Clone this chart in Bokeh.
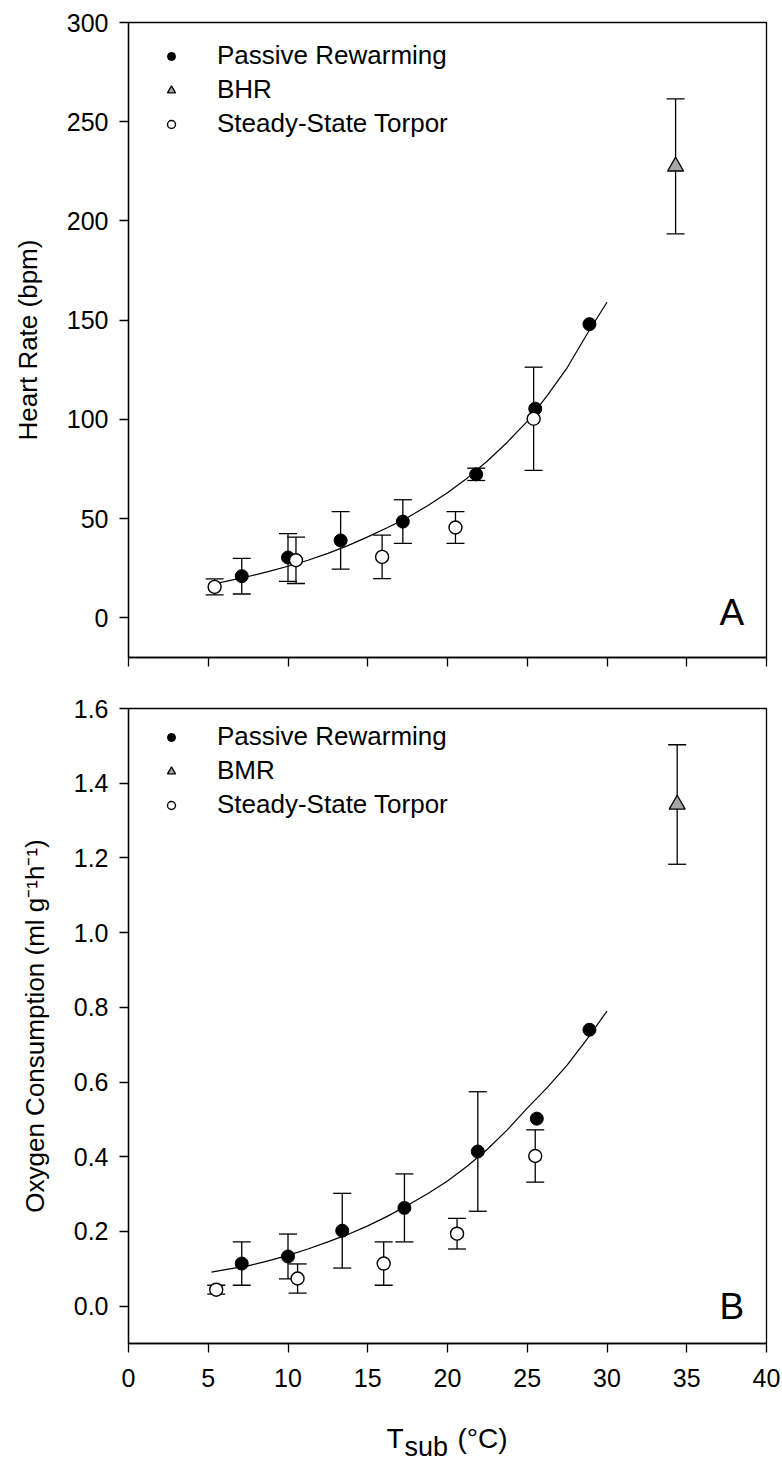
from bokeh.plotting import figure
from bokeh.models import (Whisker, TeeHead, ColumnDataSource, Legend, LegendItem,
                          Range1d, FixedTicker, Label, NumeralTickFormatter)
from bokeh.layouts import column
from bokeh.embed import file_html
from bokeh.resources import INLINE

FONT = "Liberation Sans"

# ---------------- data: panel A (heart rate) ----------------
pr_t_a = [7.1, 10.0, 13.3, 17.2, 21.8, 25.5, 28.9]
pr_hr = [21.0, 30.4, 39.0, 48.5, 72.3, 105.4, 148.0]
pr_hr_err = [9.0, 12.0, 14.5, 11.0, 3.1, 0.0, 0.0]

sst_t_a = [5.4, 10.5, 15.9, 20.5, 25.4]
sst_hr = [15.6, 29.0, 30.7, 45.5, 100.3]
sst_hr_err = [4.0, 11.7, 11.0, 8.0, 26.0]

bhr_t = [34.3]
bhr = [227.5]
bhr_err = [34.0]

# fitted curves
fit_t = [5.2, 6.25, 7.5, 8.75, 10.0, 11.25, 12.5, 13.75, 15.0, 16.25, 17.5,
         18.75, 20.0, 21.25, 22.5, 23.75, 25.0, 26.25, 27.5, 28.75, 30.0]
fit_hr = [16.8, 18.6, 20.8, 23.3, 26.0, 29.0, 32.5, 36.4, 40.8, 45.5, 50.5,
          56.5, 63.0, 70.5, 79.0, 88.5, 99.0, 112.0, 126.0, 143.0, 159.0]

# ---------------- data: panel B (oxygen consumption) ----------------
pr_t_b = [7.1, 10.0, 13.4, 17.3, 21.9, 25.6, 28.9]
pr_vo2 = [0.114, 0.133, 0.202, 0.263, 0.414, 0.502, 0.740]
pr_vo2_err = [0.058, 0.060, 0.100, 0.091, 0.160, 0.0, 0.0]

sst_t_b = [5.5, 10.6, 16.0, 20.6, 25.5]
sst_vo2 = [0.044, 0.074, 0.114, 0.194, 0.402]
sst_vo2_err = [0.012, 0.039, 0.058, 0.041, 0.070]

bmr_t = [34.4]
bmr = [1.343]
bmr_err = [0.16]

fit_vo2 = [0.091, 0.099, 0.108, 0.121, 0.136, 0.153, 0.172, 0.192, 0.215, 0.241, 0.270,
           0.301, 0.335, 0.375, 0.420, 0.472, 0.530, 0.585, 0.645, 0.715, 0.790]

x_ticks = [0, 5, 10, 15, 20, 25, 30, 35, 40]
y_ticks_a = [0, 50, 100, 150, 200, 250, 300]
y_ticks_b = [0.0, 0.2, 0.4, 0.6, 0.8, 1.0, 1.2, 1.4, 1.6]


def style(p, yticks):
    p.xgrid.grid_line_color = None
    p.ygrid.grid_line_color = None
    p.outline_line_color = "black"
    p.outline_line_width = 1.3
    p.background_fill_color = "white"
    p.border_fill_color = "white"
    for ax in (p.xaxis[0], p.yaxis[0]):
        ax.axis_line_color = "black"
        ax.axis_line_width = 1.3
        ax.major_tick_line_color = "black"
        ax.major_tick_line_width = 1.3
        ax.major_tick_out = 9
        ax.major_tick_in = 0
        ax.minor_tick_line_color = None
        ax.major_label_text_font = FONT
        ax.major_label_text_font_size = "25px"
        ax.major_label_text_color = "black"
        ax.axis_label_text_font = FONT
        ax.axis_label_text_font_size = "26px"
        ax.axis_label_text_font_style = "normal"
        ax.axis_label_text_color = "black"
    p.xaxis.ticker = FixedTicker(ticks=x_ticks)
    p.yaxis.ticker = FixedTicker(ticks=yticks)
    p.xaxis.major_label_standoff = 16
    p.yaxis.major_label_standoff = 11


def errbars(p, xs, ys, errs):
    keep = [i for i, e in enumerate(errs) if e > 0]
    src = ColumnDataSource(dict(
        x=[xs[i] for i in keep],
        upper=[ys[i] + errs[i] for i in keep],
        lower=[ys[i] - errs[i] for i in keep],
    ))
    w = Whisker(base="x", upper="upper", lower="lower", source=src,
                line_color="black", line_width=1.3, level="underlay",
                upper_head=TeeHead(size=18, line_color="black", line_width=1.3),
                lower_head=TeeHead(size=18, line_color="black", line_width=1.3))
    p.add_layout(w)


def panel(y_range, yticks, ylabel, border_top, border_bottom,
          pr_t, pr_y, pr_e, sst_t, sst_y, sst_e, ref_t, ref_y, ref_e, ref_name,
          fit_y, letter, letter_y, legend_y):
    p = figure(frame_width=638, frame_height=635, title=None,
               x_range=Range1d(0, 40), y_range=Range1d(*y_range),
               output_backend="svg", toolbar_location=None,
               min_border_left=128, min_border_right=16,
               min_border_top=border_top, min_border_bottom=border_bottom)
    style(p, yticks)
    p.yaxis.axis_label = ylabel
    p.yaxis.axis_label_standoff = 21

    p.line(fit_t, fit_y, line_color="black", line_width=1.2)
    errbars(p, pr_t, pr_y, pr_e)
    errbars(p, sst_t, sst_y, sst_e)
    errbars(p, ref_t, ref_y, ref_e)

    r_pr = p.scatter(pr_t, pr_y, marker="circle", size=13, fill_color="black",
                     line_color="black", line_width=1.0)
    r_sst = p.scatter(sst_t, sst_y, marker="circle", size=13, fill_color="white",
                      line_color="black", line_width=1.4)
    r_ref = p.scatter(ref_t, ref_y, marker="triangle", size=16, fill_color="#a6a6a6",
                      line_color="black", line_width=1.3)

    leg = Legend(items=[LegendItem(label="Passive Rewarming", renderers=[r_pr]),
                        LegendItem(label=ref_name, renderers=[r_ref]),
                        LegendItem(label="Steady-State Torpor", renderers=[r_sst])],
                 location=(33, legend_y), border_line_color=None,
                 background_fill_alpha=0, label_text_font=FONT,
                 label_text_font_size="26px", label_text_color="black",
                 glyph_width=20, glyph_height=24,
                 label_height=24, spacing=3, padding=0, margin=0,
                 label_standoff=36)
    p.add_layout(leg)

    p.add_layout(Label(x=38.6, y=letter_y, text=letter, text_align="right",
                       text_baseline="middle", text_font=FONT,
                       text_font_size="37px", text_color="black"))
    return p


pa = panel((-20, 300), y_ticks_a, "Heart Rate (bpm)", 22, 27,
           pr_t_a, pr_hr, pr_hr_err, sst_t_a, sst_hr, sst_hr_err,
           bhr_t, bhr, bhr_err, "BHR", fit_hr, "A", 2.5, 518)
pa.xaxis.major_label_overrides = {t: "" for t in x_ticks}
pa.xaxis.major_label_text_font_size = "1px"
pa.xaxis.major_label_standoff = 0

pb = panel((-0.1, 1.6), y_ticks_b,
           "Oxygen Consumption (ml g\u207b\u00b9h\u207b\u00b9)", 24, 60,
           pr_t_b, pr_vo2, pr_vo2_err, sst_t_b, sst_vo2, sst_vo2_err,
           bmr_t, bmr, bmr_err, "BMR", fit_vo2, "B", 0.0, 523)
pb.yaxis.formatter = NumeralTickFormatter(format="0.0")

# x-axis title with subscript, drawn in its own strip whose frame lines up
# with the panels above (x in page pixels, y in pixels from the strip bottom)
pt = figure(frame_width=638, frame_height=58, title=None,
            x_range=Range1d(128, 766), y_range=Range1d(0, 58),
            output_backend="svg", toolbar_location=None,
            min_border_left=128, min_border_right=16,
            min_border_top=0, min_border_bottom=0)
pt.axis.visible = False
pt.grid.visible = False
pt.outline_line_color = None
pt.add_layout(Label(x=386, y=23, text="T", text_font=FONT, text_font_size="28px",
                    text_baseline="alphabetic", text_align="left", text_color="black"))
pt.add_layout(Label(x=404, y=15, text="sub", text_font=FONT, text_font_size="27px",
                    text_baseline="alphabetic", text_align="left", text_color="black"))
pt.add_layout(Label(x=457, y=23, text="(\u00b0C)", text_font=FONT, text_font_size="28px",
                    text_baseline="alphabetic", text_align="left", text_color="black"))

layout = column(pa, pb, pt, spacing=0)
open("out.html", "w").write(file_html(layout, INLINE))
